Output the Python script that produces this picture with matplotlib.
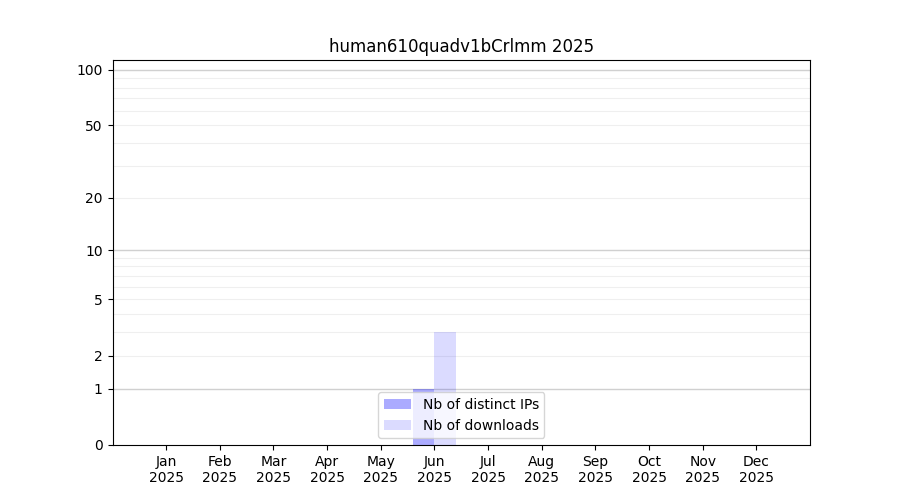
import numpy as np
from matplotlib import pyplot as plt
from matplotlib.ticker import FixedLocator

title = 'human610quadv1bCrlmm 2025'
months = ['Jan', 'Feb', 'Mar', 'Apr', 'May', 'Jun', 'Jul', 'Aug', 'Sep', 'Oct', 'Nov', 'Dec']
year = '2025'
distinct_ips = [0, 0, 0, 0, 0, 1, 0, 0, 0, 0, 0, 0]
downloads = [0, 0, 0, 0, 0, 3, 0, 0, 0, 0, 0, 0]

x = np.arange(1, 13)

fig, ax = plt.subplots(figsize=(9, 5), dpi=100)
ax.set_yscale('function', functions=(lambda v: np.log10(1 + np.clip(v, 0, None)),
                                     lambda v: 10 ** v - 1))

ax.bar(x - 0.2, distinct_ips, width=0.4, color='blue', alpha=0.33, label='Nb of distinct IPs')
ax.bar(x + 0.2, downloads, width=0.4, color='blue', alpha=0.14, label='Nb of downloads')

ax.set_ylim(0, 113)
ax.set_xlim(0, 13)
ax.set_xticks(x)
ax.set_xticklabels(['%s\n%s' % (m, year) for m in months])

ax.yaxis.set_major_locator(FixedLocator([0, 1, 2, 5, 10, 20, 50, 100]))
ax.set_yticklabels(['0', '1', '2', '5', '10', '20', '50', '100'])

# grid lines
for v in [1, 10, 100]:
    ax.axhline(v, color='#d0d0d0', lw=1, zorder=0)
minor = [2, 3, 4, 5, 6, 7, 8, 9, 20, 30, 40, 50, 60, 70, 80, 90]
for v in minor:
    ax.axhline(v, color='#efefef', lw=0.8, zorder=0)

ax.set_title(title)
ax.legend(loc='lower center')
plt.savefig('out.png', dpi=100)
